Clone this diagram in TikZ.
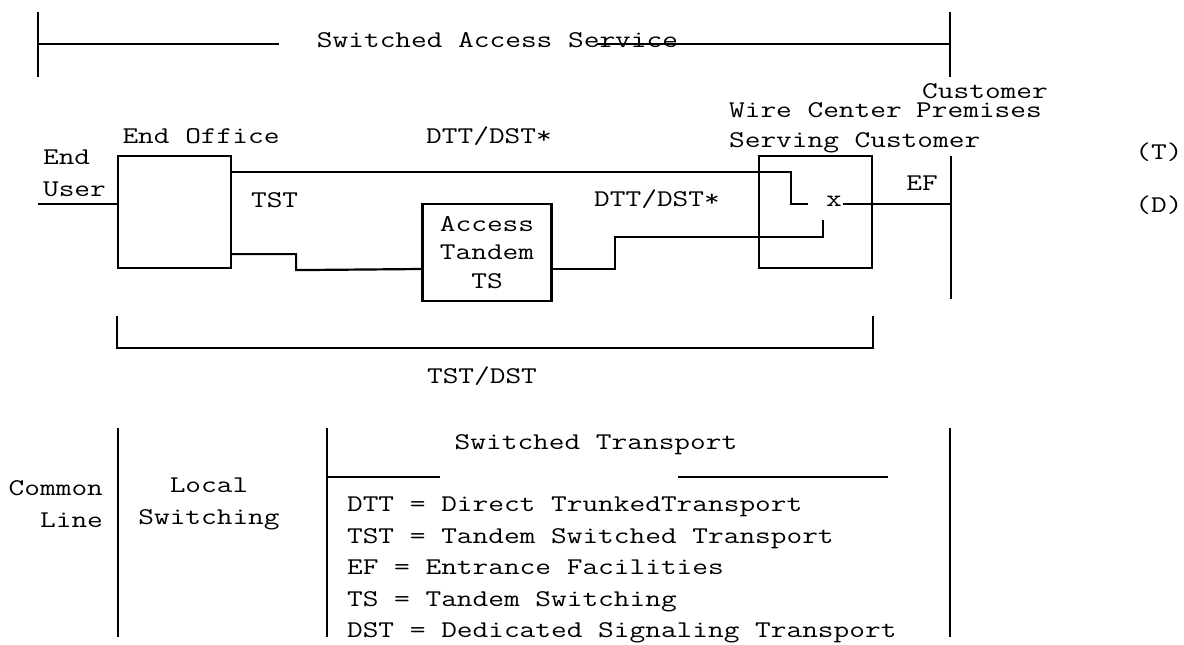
\documentclass[tikz,border=0pt]{standalone}
\usepackage{fontspec}
\newfontfamily\courfont{Latin Modern Mono}[FakeStretch=1.27]
\begin{document}
\begin{tikzpicture}[x=0.5pt, y=-0.5pt, line width=1.1pt,
    txt/.style={inner sep=0pt, font=\courfont\fontsize{12}{15}\selectfont},
    office/.style={draw, inner sep=0pt, minimum width=56.5pt, minimum height=56pt}]
    \useasboundingbox (0,0) rectangle (1184,644);
    \draw (38,12) -- (38,77);
    \draw (38,44) -- (279,44);
    \draw (597,44) -- (950,44);
    \draw (950,12) -- (950,77);
    \node[txt] (sas) at (497.5,40) {Switched Access Service};
    \node[txt] (cust) at (985,91) {Customer};
    \node[txt] (prem) at (979,110) {Premises};
    \node[txt, anchor=west, align=left, font=\courfont\fontsize{12}{15}\selectfont] (wct) at (728,128) {Wire Center\\Serving Customer};
    \node[txt, anchor=west, align=left, font=\courfont\fontsize{12}{16}\selectfont] (eu) at (42,173) {End\\User};
    \node[txt] (eot) at (201,136) {End Office};
    \node[txt] (dtt1) at (489,136) {DTT/DST*};
    \node[txt] (tst) at (274.6,200) {TST};
    \node[txt] (dtt2) at (657,199) {DTT/DST*};
    \node[txt] (ef) at (922,183) {EF};
    \node[txt] (t) at (1159,152) {(T)};
    \node[txt] (d) at (1159,205) {(D)};
    \node[office] (eo) at (174.5,212) {};
    \node[office, minimum width=64.5pt, minimum height=48.5pt, align=center, font=\courfont\fontsize{12}{14.25}\selectfont] (acc) at (487,252.5) {Access\\Tandem\\TS};
    \node[office] (wc) at (815.5,212) {};
    \node[txt] (xsw) at (834,201) {x};
    \coordinate (eul) at (38,204);
    \coordinate (swA) at (808,204);
    \coordinate (swB) at (823,220);
    \coordinate (cpT) at (951,156);
    \coordinate (cpB) at (951,299);
    \draw (eul) -- (eul -| eo.west);
    \draw ([yshift=-8.5pt]eo.north east) -| ([xshift=-8.5pt]swA) -- (swA);
    \draw ([yshift=7.5pt]eo.south east) -| ++(64,16) -- ([yshift=-8.25pt]acc.west);
    \draw ([yshift=-8.25pt]acc.east) -| ++(62,-32) -| (swB);
    \draw (cpT) -- (cpB);
    \draw (xsw.east |- swA) -- (swA -| cpT);
    \draw (eo.west |- 0,316) -- (eo.west |- 0,348) -| (wc.east |- 0,316);
    \node[txt] (tstdst) at (482,376) {TST/DST};
    \draw (118,428) -- (118,637);
    \draw (327,428) -- (327,637);
    \draw (950,428) -- (950,637);
    \draw (327,477) -- (440,477);
    \draw (678,477) -- (888,477);
    \node[txt] (swt) at (596,445) {Switched Transport};
    \node[txt, anchor=east, align=right, font=\courfont\fontsize{12}{16}\selectfont] (cl) at (104,504) {Common\\Line};
    \node[txt, align=center, font=\courfont\fontsize{12}{16}\selectfont] (ls) at (209,504) {Local\\Switching};
    \node[txt, anchor=west, align=left, font=\courfont\fontsize{12}{15.75}\selectfont] (legend) at (346,570) {DTT = Direct TrunkedTransport\\TST = Tandem Switched Transport\\EF = Entrance Facilities\\TS = Tandem Switching\\DST = Dedicated Signaling Transport};
\end{tikzpicture}
\end{document}
